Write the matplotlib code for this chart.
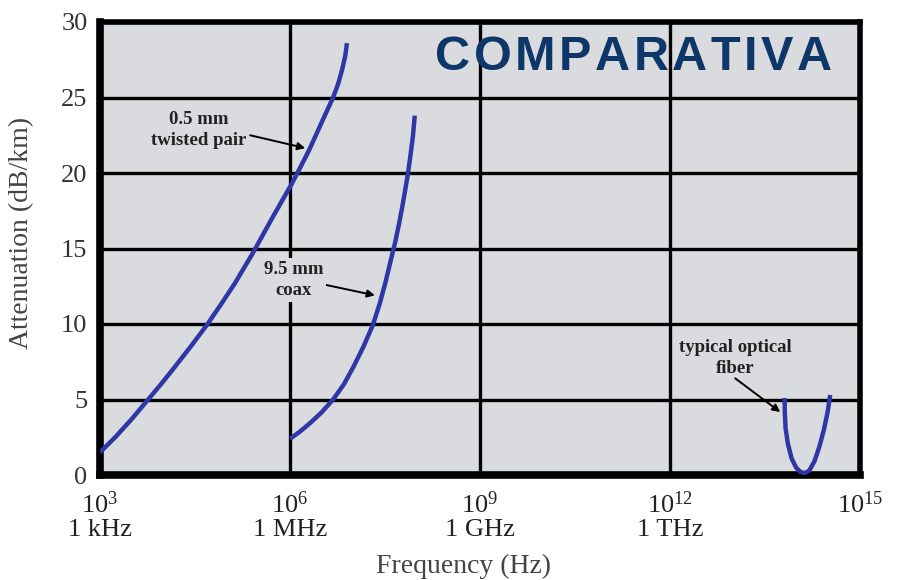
import numpy as np
import matplotlib
matplotlib.use("Agg")
import matplotlib.pyplot as plt
from matplotlib.transforms import IdentityTransform

# ---- data (log10 frequency in Hz, attenuation in dB/km) ----
tp_logf = [3.0, 3.24, 3.5, 3.76, 3.97, 4.18, 4.44, 4.69, 4.91, 5.13, 5.40, 5.73, 6.03, 6.16, 6.30, 6.43, 6.56, 6.68, 6.76, 6.82, 6.87, 6.9]
tp_att  = [1.5, 2.5, 3.7, 5.0, 6.05, 7.15, 8.55, 9.95, 11.3, 12.7, 14.6, 17.1, 19.3, 20.35, 21.5, 22.7, 23.9, 25.0, 25.9, 26.8, 27.7, 28.6]

coax_logf = [6.0, 6.15, 6.32, 6.5, 6.68, 6.85, 7.0, 7.16, 7.31, 7.42, 7.51, 7.59, 7.66, 7.72, 7.77, 7.82, 7.86, 7.90, 7.94, 7.97]
coax_att  = [2.4, 2.85, 3.45, 4.15, 5.0, 6.0, 7.15, 8.5, 9.95, 11.4, 12.8, 14.2, 15.4, 16.6, 17.7, 18.9, 19.9, 21.1, 22.4, 23.8]

fib_logf = [13.81, 13.813, 13.825, 13.86, 13.92, 13.99, 14.06, 14.13, 14.2, 14.28, 14.36, 14.43, 14.49, 14.53]
fib_att  = [5.1, 4.1, 3.1, 2.1, 1.1, 0.5, 0.2, 0.13, 0.3, 0.9, 1.9, 3.0, 4.2, 5.3]

xtick_pos = [1e3, 1e6, 1e9, 1e12, 1e15]
xtick_labels = ["$\\mathregular{10^{3}}$\n1 kHz", "$\\mathregular{10^{6}}$\n1 MHz",
                "$\\mathregular{10^{9}}$\n1 GHz", "$\\mathregular{10^{12}}$\n1 THz",
                "$\\mathregular{10^{15}}$\n "]
ytick_pos = [0, 5, 10, 15, 20, 25, 30]

title_text = "COMPARATIVA"
ann_texts = ["0.5 mm\ntwisted pair", "9.5 mm\ncoax", "typical optical\nfiber"]

plt.rcParams['font.family'] = ['Liberation Serif', 'DejaVu Serif']
plt.rcParams['mathtext.fontset'] = 'custom'
plt.rcParams['mathtext.rm'] = 'Liberation Serif'

bg = '#d9dbde'
fig = plt.figure(figsize=(8.97, 5.80), dpi=100)
ax = fig.add_axes([100/897, 105/580, 760/897, 453/580])
ax.set_facecolor(bg)

ax.set_xscale('log')
ax.set_xlim(1e3, 1e15)
ax.set_ylim(0, 30)

curve_color = '#2f37a6'
for lf, at in [(tp_logf, tp_att), (coax_logf, coax_att), (fib_logf, fib_att)]:
    ax.plot(10 ** np.array(lf), at, color=curve_color, lw=3.2, solid_capstyle='butt',
            solid_joinstyle='round', zorder=3)

ax.set_xticks(xtick_pos)
ax.set_xticklabels(xtick_labels, fontsize=19, color='#222222', linespacing=1.05)
ax.xaxis.set_minor_locator(matplotlib.ticker.NullLocator())
ax.set_yticks(ytick_pos)
ax.set_yticklabels([str(v) for v in ytick_pos], fontsize=19, color='#333333')
ax.tick_params(axis='both', length=0)
ax.tick_params(axis='y', pad=9)
ax.tick_params(axis='x', pad=12)

ax.grid(True, color='black', lw=2.4)
ax.set_axisbelow(True)
for side, sp in ax.spines.items():
    sp.set_linewidth(4.0)
    sp.set_color('black')
ax.spines['left'].set_linewidth(5.5)
ax.spines['bottom'].set_linewidth(5.5)

ax.set_ylabel("Attenuation (dB/km)", fontsize=20, color='#444444')
ax.yaxis.set_label_coords(-0.087, 0.535)
ax.set_xlabel("Frequency (Hz)", fontsize=20, color='#444444')
ax.xaxis.set_label_coords(0.478, -0.175)

ann_kw = dict(fontsize=13.5, fontweight='bold', color='#222222', ha='center', va='center',
              linespacing=1.3, zorder=4)
arrow = dict(arrowstyle='-|>', color='black', lw=1.4, mutation_scale=11, shrinkA=0, shrinkB=0)

ax.text(10 ** 4.56, 22.85, ann_texts[0], **ann_kw)
ax.annotate("", xy=(10 ** 6.24, 21.65), xytext=(10 ** 5.37, 22.5), arrowprops=arrow)
ax.text(10 ** 6.06, 12.9, ann_texts[1],
        bbox=dict(boxstyle='square,pad=0.15', facecolor=bg, edgecolor='none'), **ann_kw)
ax.annotate("", xy=(10 ** 7.34, 11.9), xytext=(10 ** 6.44, 12.7), arrowprops=arrow)
ax.text(10 ** 13.03, 7.75, ann_texts[2], **ann_kw)
ax.annotate("", xy=(10 ** 13.74, 4.17), xytext=(10 ** 13.03, 6.4), arrowprops=arrow)

# letter-spaced title (pixel coordinates)
renderer = fig.canvas.get_renderer()
chars = []
for ch in title_text:
    t = fig.text(0, 0, ch, fontsize=35, fontweight='bold', color='#0d3669',
                 family='Liberation Sans', ha='left', va='center',
                 transform=IdentityTransform(), zorder=5)
    chars.append(t)
widths = [t.get_window_extent(renderer).width for t in chars]
x0, x1 = 435.0, 832.0
gap = (x1 - x0 - sum(widths)) / (len(chars) - 1)
x = x0
for t, w in zip(chars, widths):
    t.set_position((x, 580 - 57))
    x += w + gap

fig.savefig("out.png", dpi=100)
